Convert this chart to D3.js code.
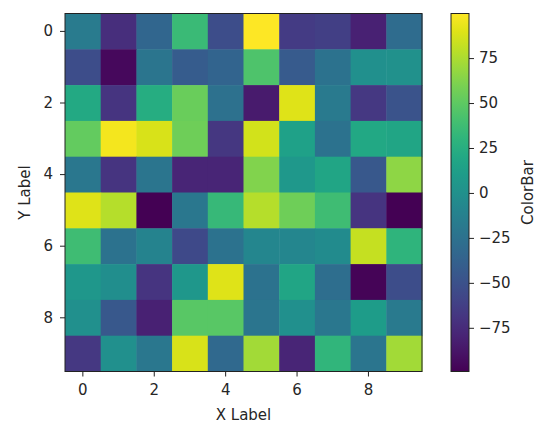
<!DOCTYPE html>
<html>
<head>
<meta charset="utf-8">
<script src="https://cdn.jsdelivr.net/npm/d3@7"></script>
<style>
  body { margin:0; background:#fff; }
  text { font-family:"DejaVu Sans", sans-serif; fill:#262626; }
</style>
</head>
<body>
<svg id="chart" width="545" height="428"></svg>
<script>
// heatmap values, row by row (row 0 at top)
var rows = [0,1,2,3,4,5,6,7,8,9];
var cols = [0,1,2,3,4,5,6,7,8,9];
var values = [
  [-17, -73, -34,  36, -53,  99.8, -65, -62, -81, -30],
  [-53, -95, -22, -42, -36,  44, -43, -24,   0,   1],
  [ 21, -69,  24,  54, -26, -85,  90, -18, -67, -48],
  [ 52,  96,  88,  56, -68,  86,  14, -24,  20,  18],
  [-20, -69, -22, -79, -79,  62,   7,  18, -45,  66],
  [ 90,  78, -99, -20,  34,  78,  56,  38, -69, -99.3],
  [ 38, -24, -10, -55, -24,  -8,  -8,  -4,  82,  30],
  [  6,  -2, -69,   6,  90, -24,  18, -28, -97, -53],
  [  0, -45, -81,  48,  48, -22,   0, -20,  10, -18],
  [-67,   0, -20,  88, -32,  72, -79,  31, -22,  72]
];
var xTicks = [0,2,4,6,8];
var yTicks = [0,2,4,6,8];
var cbTicks = [-75,-50,-25,0,25,50,75];

var svg = d3.select('#chart');
var mLeft=65, mTop=13.5, w=357, h=358;

var flat = [];
values.forEach(function(r,i){ r.forEach(function(v,j){ flat.push({r:i,c:j,v:v}); }); });
var ext = d3.extent(flat, function(d){ return d.v; });
var color = d3.scaleSequential(d3.interpolateViridis).domain(ext);

var x = d3.scaleBand().domain(cols).range([mLeft,mLeft+w]).padding(0);
var y = d3.scaleBand().domain(rows).range([mTop,mTop+h]).padding(0);

svg.append('g').selectAll('rect').data(flat).enter().append('rect')
  .attr('x',function(d){ return x(d.c); })
  .attr('y',function(d){ return y(d.r); })
  .attr('width',x.bandwidth()+0.5)
  .attr('height',y.bandwidth()+0.5)
  .style('fill',function(d){ return color(d.v); });

svg.append('rect').attr('x',mLeft).attr('y',mTop).attr('width',w).attr('height',h)
  .style('fill','none').style('stroke','#222').style('stroke-width',1);

var xa = svg.append('g').attr('transform','translate(0,'+(mTop+h)+')')
  .call(d3.axisBottom(x).tickValues(xTicks).tickSize(5).tickPadding(8));
var ya = svg.append('g').attr('transform','translate('+mLeft+',0)')
  .call(d3.axisLeft(y).tickValues(yTicks).tickSize(5).tickPadding(7));
[xa,ya].forEach(function(a){
  a.select('.domain').remove();
  a.selectAll('line').style('stroke','#222');
  a.selectAll('text').style('font-size','15px').style('font-family','"DejaVu Sans", sans-serif').attr('fill','#262626');
});

svg.append('text').attr('x',mLeft+w/2).attr('y',420).style('text-anchor','middle')
  .style('font-size','15px').text('X Label');
svg.append('text').attr('transform','translate(30,'+(mTop+h/2)+') rotate(-90)')
  .style('text-anchor','middle').style('font-size','15px').text('Y Label');

// colorbar
var cbx=451, cbw=18;
var cbScale = d3.scaleLinear().domain(ext).range([mTop+h, mTop]);
var defs = svg.append('defs');
var grad = defs.append('linearGradient').attr('id','cbgrad')
  .attr('x1','0').attr('y1','1').attr('x2','0').attr('y2','0');
d3.range(0,1.0001,0.05).forEach(function(t){
  grad.append('stop').attr('offset',t).attr('stop-color',d3.interpolateViridis(t));
});
svg.append('rect').attr('x',cbx).attr('y',mTop).attr('width',cbw).attr('height',h)
  .style('fill','url(#cbgrad)').style('stroke','#222').style('stroke-width',1);
var ca = svg.append('g').attr('transform','translate('+(cbx+cbw)+',0)')
  .call(d3.axisRight(cbScale).tickValues(cbTicks).tickSize(5).tickPadding(5)
    .tickFormat(function(d){ return d<0 ? '\u2212'+Math.abs(d) : d; }));
ca.select('.domain').remove();
ca.selectAll('line').style('stroke','#222');
ca.selectAll('text').style('font-size','15px').style('font-family','"DejaVu Sans", sans-serif').attr('fill','#262626');

svg.append('text').attr('transform','translate(533,'+(mTop+h/2)+') rotate(-90)')
  .style('text-anchor','middle').style('font-size','15px').text('ColorBar');
</script>
</body>
</html>
